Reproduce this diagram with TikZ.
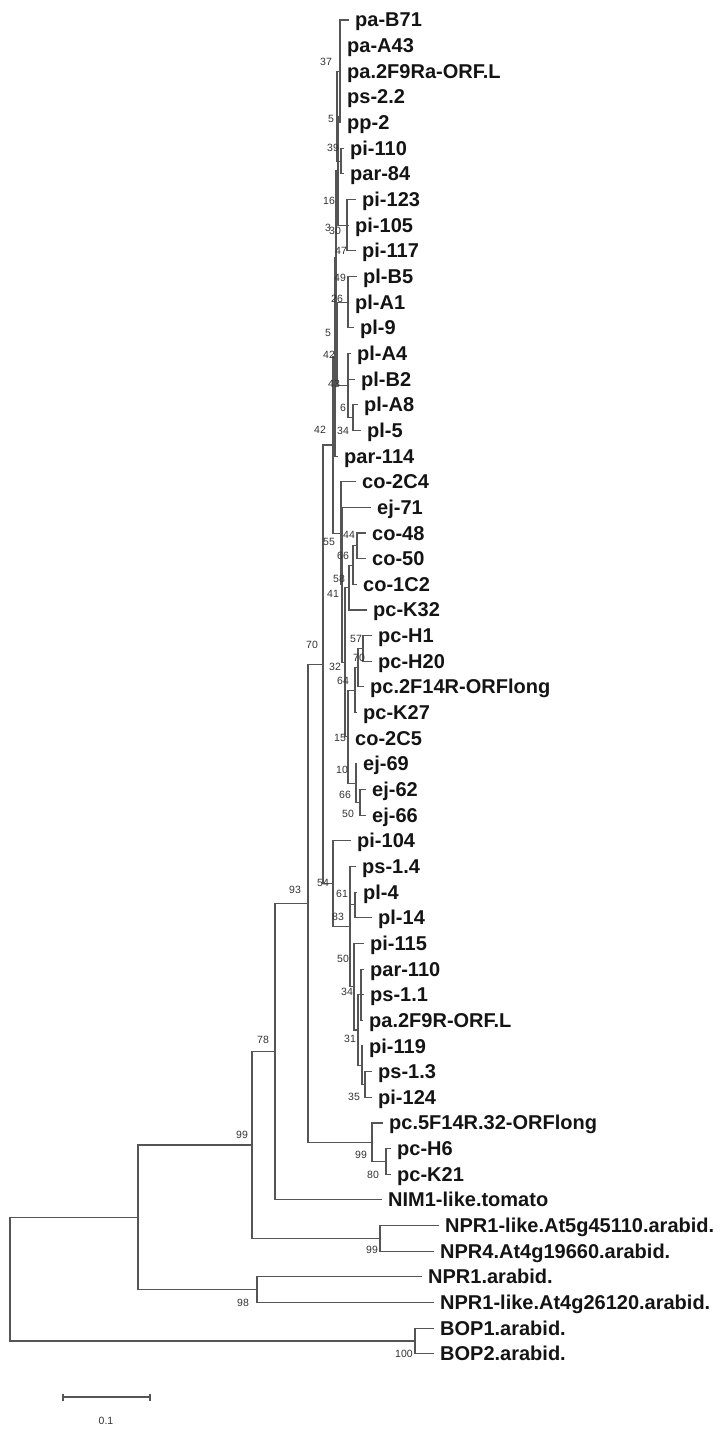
\documentclass[tikz,border=0pt]{standalone}
\usepackage{fontspec}
\setmainfont{Liberation Sans}
\definecolor{brc}{RGB}{85,85,85}
\begin{document}
\begin{tikzpicture}[x=1pt,y=-1pt,
  branch/.style={draw=brc, line width=1.1pt},
  leaf/.style={anchor=west, inner xsep=6pt, inner ysep=0pt, text height=14pt, text depth=0pt, font=\bfseries\fontsize{20}{22}\selectfont, text=black!92},
  bs/.style={inner sep=0pt, font=\fontsize{10.5}{11}\selectfont, text=black!80}]
\useasboundingbox (0,0) rectangle (723,1429);
% leaves
\node[leaf] (l0) at (349,20.00) {pa-B71};
\node[leaf] (l1) at (341,45.65) {pa-A43};
\node[leaf] (l2) at (341,71.30) {pa.2F9Ra-ORF.L};
\node[leaf] (l3) at (341,96.95) {ps-2.2};
\node[leaf] (l4) at (341,122.60) {pp-2};
\node[leaf] (l5) at (344,148.25) {pi-110};
\node[leaf] (l6) at (344,173.90) {par-84};
\node[leaf] (l7) at (356,199.55) {pi-123};
\node[leaf] (l8) at (349,225.20) {pi-105};
\node[leaf] (l9) at (356,250.85) {pi-117};
\node[leaf] (l10) at (357,276.50) {pl-B5};
\node[leaf] (l11) at (349,302.15) {pl-A1};
\node[leaf] (l12) at (354,327.80) {pl-9};
\node[leaf] (l13) at (351,353.45) {pl-A4};
\node[leaf] (l14) at (355,379.10) {pl-B2};
\node[leaf] (l15) at (358,404.75) {pl-A8};
\node[leaf] (l16) at (361,430.40) {pl-5};
\node[leaf] (l17) at (338,456.05) {par-114};
\node[leaf] (l18) at (356,481.70) {co-2C4};
\node[leaf] (l19) at (371,507.35) {ej-71};
\node[leaf] (l20) at (366,533.00) {co-48};
\node[leaf] (l21) at (366,558.65) {co-50};
\node[leaf] (l22) at (357,584.30) {co-1C2};
\node[leaf] (l23) at (367,609.95) {pc-K32};
\node[leaf] (l24) at (372,635.60) {pc-H1};
\node[leaf] (l25) at (372,661.25) {pc-H20};
\node[leaf] (l26) at (364,686.90) {pc.2F14R-ORFlong};
\node[leaf] (l27) at (357,712.55) {pc-K27};
\node[leaf] (l28) at (349,738.20) {co-2C5};
\node[leaf] (l29) at (357,763.85) {ej-69};
\node[leaf] (l30) at (366,789.50) {ej-62};
\node[leaf] (l31) at (366,815.15) {ej-66};
\node[leaf] (l32) at (351,840.80) {pi-104};
\node[leaf] (l33) at (356,866.45) {ps-1.4};
\node[leaf] (l34) at (357,892.10) {pl-4};
\node[leaf] (l35) at (372,917.75) {pl-14};
\node[leaf] (l36) at (364,943.40) {pi-115};
\node[leaf] (l37) at (364,969.05) {par-110};
\node[leaf] (l38) at (364,994.70) {ps-1.1};
\node[leaf] (l39) at (363,1020.35) {pa.2F9R-ORF.L};
\node[leaf] (l40) at (363,1046.00) {pi-119};
\node[leaf] (l41) at (372,1071.65) {ps-1.3};
\node[leaf] (l42) at (372,1097.30) {pi-124};
\node[leaf] (l43) at (383,1122.95) {pc.5F14R.32-ORFlong};
\node[leaf] (l44) at (391,1148.60) {pc-H6};
\node[leaf] (l45) at (391,1174.25) {pc-K21};
\node[leaf] (l46) at (382,1199.90) {NIM1-like.tomato};
\node[leaf] (l47) at (439,1225.55) {NPR1-like.At5g45110.arabid.};
\node[leaf] (l48) at (434,1251.20) {NPR4.At4g19660.arabid.};
\node[leaf] (l49) at (422,1276.85) {NPR1.arabid.};
\node[leaf] (l50) at (434,1302.50) {NPR1-like.At4g26120.arabid.};
\node[leaf] (l51) at (434,1328.15) {BOP1.arabid.};
\node[leaf] (l52) at (434,1353.80) {BOP2.arabid.};
% internal nodes
\coordinate (n37) at (340,71.3);
\coordinate (n39) at (341,161.08);
\coordinate (n5) at (337,116.19);
\coordinate (n47) at (347,225.2);
\coordinate (n16) at (338,170.7);
\coordinate (n49) at (348,302.15);
\coordinate (n6) at (353,417.58);
\coordinate (n43) at (348,385.5);
\coordinate (nPL) at (337,343.8);
\coordinate (nV) at (336,257.3);
\coordinate (nT) at (335,356.7);
\coordinate (n44) at (357,545.8);
\coordinate (n66) at (353,565.1);
\coordinate (n58) at (349,587.5);
\coordinate (n57) at (363,648.4);
\coordinate (n70b) at (358,667.7);
\coordinate (n64) at (355,690.1);
\coordinate (n66b) at (360,802.3);
\coordinate (n10) at (356,783.1);
\coordinate (n15) at (348,736.6);
\coordinate (n32) at (345,662.1);
\coordinate (n41) at (342,584.7);
\coordinate (n55) at (341,533.2);
\coordinate (n42) at (333,445.0);
\coordinate (n61) at (355,904.9);
\coordinate (n35) at (365,1084.5);
\coordinate (n31) at (362,1065.3);
\coordinate (nPS) at (361,994.7);
\coordinate (n34) at (358,1030.0);
\coordinate (n50) at (354,986.7);
\coordinate (n83) at (350,926.6);
\coordinate (n54) at (333,883.7);
\coordinate (n70) at (323,664.4);
\coordinate (n80) at (386,1161.4);
\coordinate (npc) at (372,1142.2);
\coordinate (n93) at (308,903.3);
\coordinate (n78) at (275,1051.6);
\coordinate (nNPR) at (380,1238.4);
\coordinate (n99) at (252,1145.0);
\coordinate (n98) at (257,1289.7);
\coordinate (n138) at (138,1217.4);
\coordinate (nBOP) at (415,1341.0);
\coordinate (root) at (10,1279.2);
% branches
\foreach \p/\c in {n37/l0.west,n37/l1.west,n37/l2.west,n37/l3.west,n37/l4.west,
  n39/l5.west,n39/l6.west,n5/n37,n5/n39,
  n47/l7.west,n47/l8.west,n47/l9.west,n16/n5,n16/n47,
  n49/l10.west,n49/l11.west,n49/l12.west,n6/l15.west,n6/l16.west,
  n43/l13.west,n43/l14.west,n43/n6,nPL/n49,nPL/n43,nV/n16,nV/nPL,
  nT/nV,nT/l17.west,
  n44/l20.west,n44/l21.west,n66/n44,n66/l22.west,n58/n66,n58/l23.west,
  n57/l24.west,n57/l25.west,n70b/n57,n70b/l26.west,n64/n70b,n64/l27.west,
  n66b/l30.west,n66b/l31.west,n10/l29.west,n10/n66b,
  n15/n64,n15/l28.west,n15/n10,n32/n58,n32/n15,n41/l19.west,n41/n32,
  n55/l18.west,n55/n41,n42/nT,n42/n55,
  n61/l34.west,n61/l35.west,n35/l41.west,n35/l42.west,n31/l40.west,n31/n35,
  nPS/l37.west,nPS/l38.west,nPS/l39.west,n34/nPS,n34/n31,n50/l36.west,n50/n34,
  n83/l33.west,n83/n61,n83/n50,n54/l32.west,n54/n83,n70/n42,n70/n54,
  n80/l44.west,n80/l45.west,npc/l43.west,npc/n80,n93/n70,n93/npc,
  n78/n93,n78/l46.west,nNPR/l47.west,nNPR/l48.west,n99/n78,n99/nNPR,
  n98/l49.west,n98/l50.west,n138/n99,n138/n98,nBOP/l51.west,nBOP/l52.west,
  root/n138,root/nBOP}
  \draw[branch] (\p) |- (\c);
% bootstrap values
\node[bs] (b1) at (326,62) {37};
\node[bs] (b2) at (331,119) {5};
\node[bs] (b3) at (333,148) {39};
\node[bs] (b4) at (329,201) {16};
\node[bs] (b5) at (328,228) {3};
\node[bs] (b6) at (335,231) {30};
\node[bs] (b7) at (341,251) {47};
\node[bs] (b8) at (340,278) {49};
\node[bs] (b9) at (337,299) {26};
\node[bs] (b10) at (328,333) {5};
\node[bs] (b11) at (329,355) {42};
\node[bs] (b12) at (334,384) {43};
\node[bs] (b13) at (343,408) {6};
\node[bs] (b14) at (320,430) {42};
\node[bs] (b15) at (343,431) {34};
\node[bs] (b16) at (349,535) {44};
\node[bs] (b17) at (329,542) {55};
\node[bs] (b18) at (343,556) {66};
\node[bs] (b19) at (339,579) {58};
\node[bs] (b20) at (333,594) {41};
\node[bs] (b21) at (312,645) {70};
\node[bs] (b22) at (356,639) {57};
\node[bs] (b23) at (359,658) {70};
\node[bs] (b24) at (335,667) {32};
\node[bs] (b25) at (343,681) {64};
\node[bs] (b26) at (340,738) {15};
\node[bs] (b27) at (342,770) {10};
\node[bs] (b28) at (345,795) {66};
\node[bs] (b29) at (348,814) {50};
\node[bs] (b30) at (295,890) {93};
\node[bs] (b31) at (323,883) {54};
\node[bs] (b32) at (342,894) {61};
\node[bs] (b33) at (338,917) {83};
\node[bs] (b34) at (343,959) {50};
\node[bs] (b35) at (347,992) {34};
\node[bs] (b36) at (350,1039) {31};
\node[bs] (b37) at (354,1097) {35};
\node[bs] (b38) at (263,1040) {78};
\node[bs] (b39) at (361,1155) {99};
\node[bs] (b40) at (373,1175) {80};
\node[bs] (b41) at (242,1135) {99};
\node[bs] (b42) at (372,1250) {99};
\node[bs] (b43) at (243,1303) {98};
\node[bs] (b44) at (404,1354) {100};
% scale bar
\coordinate (sb1) at (63,1397);
\coordinate (sb2) at (150,1397);
\draw[branch] (sb1) -- (sb2);
\draw[branch] ([yshift=3.5pt]sb1) -- ([yshift=-3.5pt]sb1);
\draw[branch] ([yshift=3.5pt]sb2) -- ([yshift=-3.5pt]sb2);
\node[bs] (sbl) at (106,1421) {0.1};
\end{tikzpicture}
\end{document}
